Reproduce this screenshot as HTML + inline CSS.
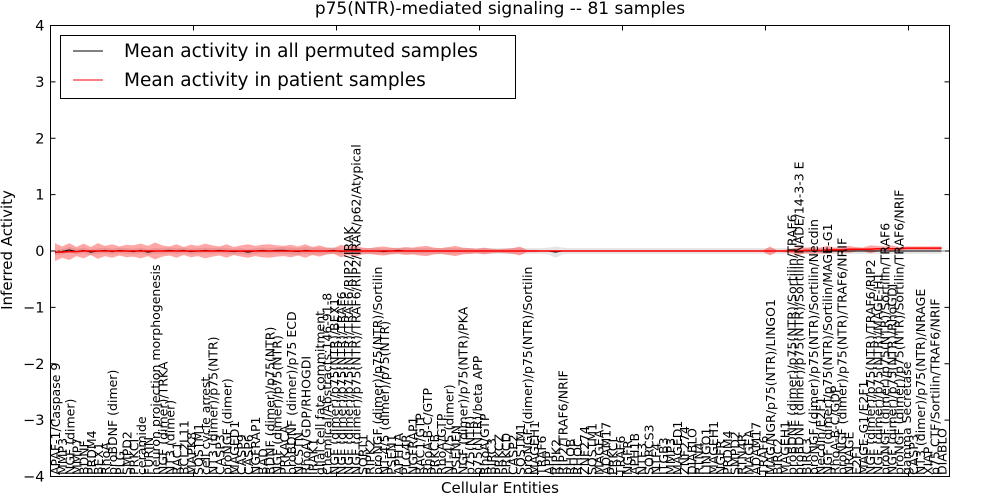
<!DOCTYPE html>
<html><head><meta charset="utf-8">
<style>
html,body{margin:0;padding:0;background:#fff;}
svg{display:block;font-family:"DejaVu Sans","Liberation Sans",sans-serif;}
</style></head>
<body>
<svg id="chart" width="1000" height="500" viewBox="0 0 1000 500" xmlns="http://www.w3.org/2000/svg">
  <text x="500" y="14" text-anchor="middle" font-size="17">p75(NTR)-mediated signaling -- 81 samples</text>
  <g id="plot"></g>
  <rect x="50.5" y="25.5" width="899" height="451" fill="none" stroke="#000" stroke-width="1"/>
  <g>
    <rect x="60.5" y="35.5" width="455" height="63" fill="#fff" stroke="#000"/>
    <line x1="73" y1="51" x2="103" y2="51" stroke="#000" stroke-width="1"/>
    <text x="124" y="57" font-size="18.5">Mean activity in all permuted samples</text>
    <line x1="73" y1="80" x2="103" y2="80" stroke="#f00" stroke-width="1"/>
    <text x="124" y="86" font-size="18.5">Mean activity in patient samples</text>
  </g>
  <text x="500" y="493" text-anchor="middle" font-size="15">Cellular Entities</text>
  <text transform="translate(12,250) rotate(-90)" text-anchor="middle" font-size="15">Inferred Activity</text>
</svg>
<script>
const yTicks = [4,3,2,1,0,-1,-2,-3,-4];
const yTickLabels = ["4","3","2","1","0","\u22121","\u22122","\u22123","\u22124"];
const xTickUnits = [0,20,40,60,80,100,120];
const labels = [
"APAF-1/Caspase 9","MMP3","NGF (dimer)","MMP7","BDNF","PRDM4","BEX1","RhoA","proBDNF (dimer)","PLG",
"SMPD2","PRKCI","ceramide","FURIN","neuron projection morphogenesis","NGF (dimer)/TRKA","NT3 (dimer)","RAC1","BCL2L11","MAPK8",
"SQSTM1","cell cycle arrest","NT3 (dimer)/p75(NTR)","CASP3","proNGF (dimer)","MAGED1","CASP9","CASP6","NGFRAP1","BAD",
"BDNF (dimer)/p75(NTR)","NGF (dimer)/p75(NTR)","PRKACA","proBDNF (dimer)/p75 ECD","NCSTN","RhoA/GDP/RHOGDI","IRAK1","glial cell fate commitment","Chemical/Abstracts:146-91-8","NGF (dimer)/p75(NTR)/BEX1",
"NGF (dimer)/p75(NTR)/TRAF6","NGF (dimer)/p75(NTR)/TRAF6/RIP2/IRAK","NGF (dimer)/p75(NTR)/TRAF6/RIP2/IRAK/p62/Atypical","SORT1","RIPK2","proNGF (dimer)/p75(NTR)/Sortilin","NT-4/5 (dimer)/p75(NTR)","PSEN1","APH1A","PLG4R",
"NGFRAP1","RAC1/GTP","RhoA-B-C/GTP","PRKCB","RhoA/GTP","NT-4/5 (dimer)","PSENEN","NGF (dimer)/p75(NTR)/PKA","p75(NTR)","p75(NTR)/beta APP",
"RhoA/GTP","BIRC3","PRKCZ","PRKCD","CASP2","SQSTM1","proNGF (dimer)/p75(NTR)/Sortilin","MAGEH1","TRAF6","APP",
"RIPK2","RIP2/TRAF6/NRIF","RHOB","RHOC","ZNF274","SQSTM1","MAGEA","ADAM17","PRKCI","TRAF6",
"NGFR","APH1B","NTF3","SORCS3","NTF4","ITGB3","MMP3","MAGED1","ZNF274","DIABLO",
"RTN4","LINGO1","MAGEH1","NGFR","PRDM4","SMPD2","RTN4R","MAGEA","ADAM17","TRAF6",
"MAG/NGR/p75(NTR)/LINGO1","BIRC2","MAGEH1","proBDNF (dimer)/p75(NTR)/Sortilin/TRAF6","proBDNF (dimer)/p75(NTR)/Sortilin/NADE/14-3-3 E","BIRC3","proNGF (dimer)/p75(NTR)/Sortilin/Necdin","Necdin/E2F1","NGF (dimer)/p75(NTR)/Sortilin/MAGE-G1","RhoA-B-C/GDP",
"proNGF (dimer)/p75(NTR)/TRAF6/NRIF","NRAGE","E2F1","MAGE-G1/E2F1","NGF (dimer)/p75(NTR)/TRAF6/RIP2","NGF (dimer)/p75(NTR)/MAGE-H1","proNGF (dimer)/p75(NTR)/Sortilin/TRAF6","NGF (dimer)/p75(NTR)/RhoGDI","proNGF (dimer)/p75(NTR)/Sortilin/TRAF6/NRIF","gamma Secretase",
"CASP3","NT3 (dimer)/p75(NTR)/NRAGE","XIAP","p75 CTF/Sortilin/TRAF6/NRIF","DIABLO"
];
const meanAll = [
-0.03,-0.01,0.02,-0.01,0.01,-0.02,0.00,0.01,-0.01,0.01,
0.00,-0.01,0.01,-0.02,0.00,0.00,0.01,0.00,0.01,-0.01,
0.00,0.01,0.00,0.01,0.00,-0.01,0.00,-0.02,0.00,0.01,
0.00,0.01,0.01,0.00,-0.01,0.01,0.00,0.00,0.00,0.01,
-0.01,0.00,0.01,0.00,0.00,0.00,-0.01,0.00,0.01,0.00,
0.00,0.00,0.00,0.00,0.00,0.00,0.00,0.00,0.00,0.00,
0.00,0.00,0.00,0.00,0.00,0.00,0.00,0.00,0.00,0.00,
-0.02,0.00,0.00,0.00,0.00,0.00,0.00,0.00,0.00,0.00,
0.00,0.00,0.00,0.00,0.00,0.00,0.00,0.00,0.00,0.00,
0.00,0.00,0.00,0.00,0.00,0.00,0.00,0.00,0.00,0.00,
0.00,0.00,0.00,0.00,0.00,0.00,0.00,0.00,0.00,0.00,
0.00,0.00,0.00,0.00,0.00,0.00,0.00,0.00,0.00,0.00,
0.00,0.00,0.00,0.00,0.00
];
const meanPatient = [
-0.02,-0.02,-0.01,-0.01,0.00,0.00,0.00,0.00,0.00,0.00,
0.00,0.00,0.00,0.00,0.00,0.00,0.00,0.00,0.00,0.00,
0.00,0.00,0.00,0.00,0.00,0.00,0.00,0.00,0.00,0.00,
0.00,0.00,0.00,0.00,0.00,0.00,0.00,0.00,0.00,0.00,
0.00,0.00,0.00,0.00,0.00,0.00,0.00,0.00,0.00,0.00,
0.00,0.00,0.00,0.00,0.00,0.00,0.00,0.00,0.00,0.00,
0.00,0.00,0.00,0.00,0.00,0.00,0.00,0.00,0.00,0.00,
0.00,0.00,0.00,0.00,0.00,0.00,0.00,0.00,0.00,0.00,
0.00,0.00,0.00,0.00,0.00,0.00,0.00,0.00,0.00,0.00,
0.00,0.00,0.00,0.00,0.00,0.00,0.00,0.00,0.00,0.00,
0.00,0.00,0.00,0.00,0.00,0.01,0.01,0.01,0.02,0.02,
0.02,0.03,0.03,0.03,0.03,0.04,0.04,0.04,0.04,0.05,
0.05,0.05,0.05,0.05,0.05
];
const sdPatient = [
0.16,0.10,0.15,0.08,0.13,0.07,0.14,0.09,0.12,0.08,
0.11,0.10,0.13,0.09,0.15,0.10,0.08,0.12,0.07,0.11,
0.09,0.13,0.10,0.08,0.12,0.07,0.10,0.12,0.09,0.11,
0.12,0.10,0.09,0.11,0.08,0.12,0.07,0.10,0.06,0.05,
0.11,0.07,0.10,0.06,0.05,0.07,0.08,0.06,0.05,0.07,
0.06,0.08,0.09,0.06,0.05,0.07,0.09,0.06,0.05,0.04,
0.06,0.04,0.03,0.04,0.05,0.08,0.02,0.02,0.01,0.01,
0.01,0.01,0.01,0.01,0.01,0.01,0.01,0.01,0.01,0.01,
0.01,0.01,0.01,0.01,0.01,0.01,0.01,0.01,0.01,0.01,
0.01,0.01,0.01,0.01,0.01,0.01,0.01,0.01,0.01,0.01,
0.08,0.01,0.02,0.04,0.07,0.05,0.06,0.05,0.07,0.04,
0.05,0.06,0.04,0.03,0.07,0.05,0.04,0.06,0.03,0.03,
0.03,0.03,0.03,0.03,0.03
];
const sdAll = [
0.05,0.05,0.05,0.05,0.05,0.05,0.05,0.05,0.05,0.05,
0.05,0.05,0.05,0.05,0.05,0.05,0.05,0.05,0.05,0.05,
0.05,0.05,0.05,0.05,0.05,0.05,0.05,0.05,0.05,0.05,
0.05,0.05,0.06,0.06,0.06,0.06,0.06,0.06,0.06,0.06,
0.05,0.05,0.05,0.05,0.05,0.05,0.05,0.05,0.05,0.05,
0.05,0.05,0.05,0.05,0.05,0.05,0.05,0.05,0.05,0.05,
0.05,0.05,0.05,0.05,0.05,0.05,0.05,0.05,0.05,0.06,
0.10,0.06,0.05,0.05,0.05,0.05,0.05,0.05,0.05,0.05,
0.05,0.05,0.05,0.05,0.05,0.05,0.05,0.05,0.05,0.05,
0.05,0.05,0.05,0.05,0.05,0.05,0.05,0.05,0.05,0.05,
0.05,0.05,0.05,0.05,0.05,0.05,0.05,0.05,0.05,0.05,
0.05,0.05,0.05,0.05,0.05,0.05,0.05,0.05,0.05,0.05,
0.05,0.05,0.05,0.05,0.05
];

const NS = "http://www.w3.org/2000/svg";
const L = 50.5, R = 949.5, T = 25.5, B = 476.5;
const yMin = -4, yMax = 4;
const unitPx = 7.15;
function xPos(i){ return 55 + i * unitPx; }
function xAxisUnit(u){ return L + u * unitPx; }
function yPos(v){ return B - (v - yMin) / (yMax - yMin) * (B - T); }
const plot = document.getElementById('plot');
function mk(tag, attrs){ const e = document.createElementNS(NS, tag); for (const k in attrs) e.setAttribute(k, attrs[k]); return e; }

function band(mean, sd, fill, op){
  let up = [], dn = [];
  for (let i = 0; i < mean.length; i++){ up.push(xPos(i)+','+yPos(mean[i]+sd[i])); dn.unshift(xPos(i)+','+yPos(mean[i]-sd[i])); }
  return mk('polygon', {points: up.concat(dn).join(' '), fill: fill, 'fill-opacity': op, stroke: 'none'});
}
const gBand = band(meanAll, sdAll, '#aaa', 0.3);


plot.appendChild(gBand);
const rBand = band(meanPatient, sdPatient, '#f00', 0.35);


plot.appendChild(rBand);

const zl = mk('line', {x1: L, x2: R, y1: yPos(0), y2: yPos(0), stroke: '#000', 'stroke-width': 1, 'stroke-dasharray': '1,3'});


plot.appendChild(zl);

function line(arr, color){
  return mk('polyline', {points: arr.map((v,i)=>xPos(i)+','+yPos(v)).join(' '), fill: 'none', stroke: color, 'stroke-width': 1});
}
const lAll = line(meanAll, '#000');


plot.appendChild(lAll);
const lPat = line(meanPatient, '#f00');


lPat.setAttribute('stroke-width', '1.5');
plot.appendChild(lPat);

yTicks.forEach((v, k) => {
  const y = yPos(v);
  const t1 = mk('line', {x1: L, x2: L+5, y1: y, y2: y, stroke: '#000'});
  
  
  plot.appendChild(t1);
  const t2 = mk('line', {x1: R-5, x2: R, y1: y, y2: y, stroke: '#000'});
  
  
  plot.appendChild(t2);
  const tx = mk('text', {x: L-6, y: y+5, 'text-anchor': 'end', 'font-size': 14.5});
  tx.textContent = yTickLabels[k];
  
  
  plot.appendChild(tx);
});
xTickUnits.forEach(u => {
  const x = xAxisUnit(u);
  const t1 = mk('line', {x1: x, x2: x, y1: T, y2: T+5, stroke: '#000'});
  
  
  plot.appendChild(t1);
  const t2 = mk('line', {x1: x, x2: x, y1: B-5, y2: B, stroke: '#000'});
  
  
  plot.appendChild(t2);
});

labels.forEach((s, i) => {
  const x = xPos(i) + 5;
  const t = mk('text', {transform: 'translate('+x+',475) rotate(-90)', 'font-size': 12.5});
  t.textContent = s;
  
  
  plot.appendChild(t);
});
</script>
</body></html>
